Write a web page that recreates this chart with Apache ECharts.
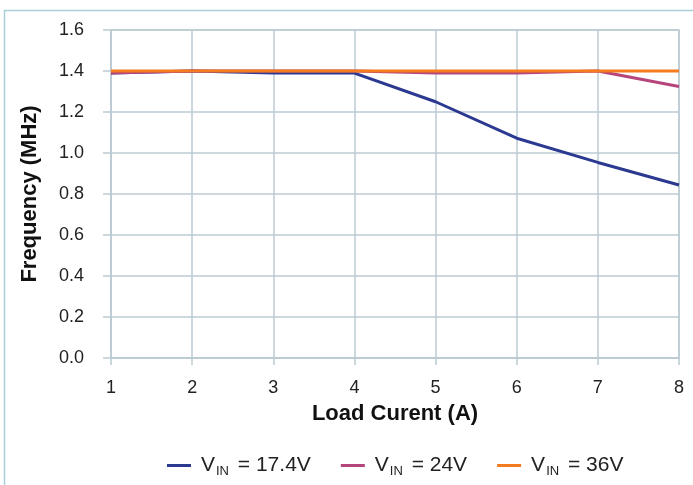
<!DOCTYPE html>
<html><head><meta charset="utf-8">
<script src="https://cdn.jsdelivr.net/npm/echarts@6/dist/echarts.min.js"></script>
<style>html,body{margin:0;padding:0;background:#fff}#c{width:693px;height:485px}</style>
</head><body><div id="c"></div>
<script>
var categories = [1, 2, 3, 4, 5, 6, 7, 8];
var vin174 = [1.39, 1.40, 1.39, 1.39, 1.25, 1.072, 0.954, 0.844];
var vin24 = [1.39, 1.40, 1.40, 1.40, 1.39, 1.39, 1.40, 1.324];
var vin36 = [1.40, 1.40, 1.40, 1.40, 1.40, 1.40, 1.40, 1.40];
var seriesNames = ['17.4V', '24V', '36V'];
var colors = ['#2b3990', '#b5457b', '#f47b20'];

var chart = echarts.init(document.getElementById('c'));
var font = 'Liberation Sans, Arial, sans-serif';
var gridColor = '#bccbd3';
function mk(name, data, i) {
  return {
    name: name, type: 'line', data: categories.map(function (x, k) { return [x, data[k]]; }),
    symbol: 'none', lineStyle: { width: 3, color: colors[i] }, itemStyle: { color: colors[i] }
  };
}
chart.setOption({
  animation: false,
  textStyle: { fontFamily: font },
  graphic: [
    { type: 'line', shape: { x1: 4.5, y1: 10, x2: 4.5, y2: 485 }, style: { stroke: '#a9cfd9', lineWidth: 1.5 } },
    { type: 'line', shape: { x1: 4, y1: 10.5, x2: 693, y2: 10.5 }, style: { stroke: '#a9cfd9', lineWidth: 1.5 } }
  ],
  grid: { left: 111, right: 14, top: 30, bottom: 127, show: true, borderColor: gridColor, borderWidth: 1.5 },
  xAxis: {
    type: 'value', min: 1, max: 8, interval: 1,
    name: 'Load Curent (A)', nameLocation: 'middle', nameGap: 45,
    nameTextStyle: { fontSize: 22, fontWeight: 'bold', color: '#111', fontFamily: font },
    axisLine: { lineStyle: { color: gridColor, width: 1.5 } },
    axisTick: { show: true, length: 7, lineStyle: { color: gridColor, width: 1.5 } },
    axisLabel: { fontSize: 18, color: '#222', margin: 21, fontFamily: font },
    splitLine: { show: true, lineStyle: { color: gridColor, width: 1.5 } }
  },
  yAxis: {
    type: 'value', min: 0, max: 1.6, interval: 0.2,
    name: 'Frequency (MHz)', nameLocation: 'middle', nameGap: 70, nameRotate: 90,
    nameTextStyle: { fontSize: 22, fontWeight: 'bold', color: '#111', fontFamily: font },
    axisLine: { show: true, lineStyle: { color: gridColor, width: 1.5 } },
    axisTick: { show: true, length: 8, lineStyle: { color: gridColor, width: 1.5 } },
    axisLabel: { fontSize: 18, color: '#222', margin: 27, fontFamily: font,
      formatter: function (v) { return v.toFixed(1); } },
    splitLine: { show: true, lineStyle: { color: gridColor, width: 1.5 } }
  },
  legend: {
    top: 450, left: 162, itemWidth: 24, itemHeight: 3, itemGap: 30,
    icon: 'rect',
    data: seriesNames,
    formatter: function (n) { return '{a|V}{b|IN}{a| = ' + n + '}'; },
    textStyle: {
      fontFamily: font, color: '#222', padding: [0, 0, 0, 5],
      rich: {
        a: { fontSize: 21, color: '#222', fontFamily: font },
        b: { fontSize: 13, color: '#222', fontFamily: font, padding: [12, 3, 0, 1] }
      }
    }
  },
  series: [mk(seriesNames[0], vin174, 0), mk(seriesNames[1], vin24, 1), mk(seriesNames[2], vin36, 2)]
});
</script></body></html>
